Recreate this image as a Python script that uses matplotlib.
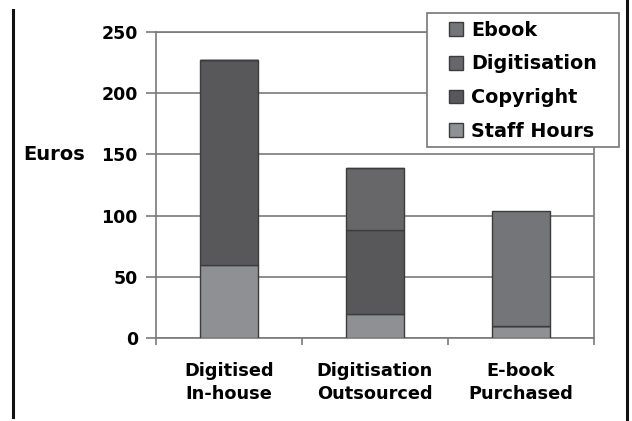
import numpy as np
import matplotlib
matplotlib.use('Agg')
import matplotlib.pyplot as plt
from matplotlib.lines import Line2D
from matplotlib.patches import Rectangle

# data (Euros per title)
categories = ['Digitised\nIn-house', 'Digitisation\nOutsourced', 'E-book\nPurchased']
staff_hours = [60, 20, 10]
copyright_cost = [167, 68, 0]
digitisation = [0, 51, 0]
ebook = [0, 0, 94]
yticks = [0, 50, 100, 150, 200, 250]

# series stacked bottom -> top
series = [
    ('Staff Hours', staff_hours, '#8f9093'),
    ('Copyright', copyright_cost, '#58585b'),
    ('Digitisation', digitisation, '#67676a'),
    ('Ebook', ebook, '#747578'),
]

plt.rcParams['font.family'] = 'DejaVu Sans'
plt.rcParams['font.weight'] = 'bold'

fig = plt.figure(figsize=(6.32, 4.21), dpi=100)
ax = fig.add_axes([0.2468, 0.197, 0.6930, 0.727])

x = np.arange(len(categories))
bottom = np.zeros(len(categories))
handles = []
for name, vals, col in series:
    vals = np.array(vals, dtype=float)
    bars = ax.bar(x, vals, width=0.4, bottom=bottom, color=col,
                  edgecolor='#3c3c3c', linewidth=1, zorder=3, label=name)
    bottom += vals
    handles.append(bars)

ax.set_xlim(-0.5, len(categories) - 0.5)
ax.set_ylim(0, 250)
ax.set_yticks(yticks)
ax.yaxis.grid(True, color='#7a7a7a', linewidth=1.2, zorder=0)

ax.set_xticks(x)
ax.set_xticklabels(categories, fontsize=12.8, fontweight='bold', linespacing=1.4)
ax.set_xticks(np.arange(len(categories) + 1) - 0.5, minor=True)
ax.tick_params(axis='x', which='major', length=0, pad=17)
ax.tick_params(axis='x', which='minor', length=5, width=1.2, color='#7a7a7a', direction='out')
ax.tick_params(axis='y', length=7, width=1.2, color='#7a7a7a', pad=6, labelsize=12.5)
for lab in ax.get_yticklabels():
    lab.set_fontweight('bold')

for s in ['left', 'bottom', 'right', 'top']:
    ax.spines[s].set_color('#7a7a7a')
    ax.spines[s].set_linewidth(1.2)

fig.text(0.036, 0.633, 'Euros', fontsize=14, fontweight='bold', va='center', ha='left')

# legend box: frame drawn separately to get the wide side padding
frame = Rectangle((0.6756, 0.6508), 0.3038, 0.3183, transform=fig.transFigure,
                  facecolor='white', edgecolor='#777777', linewidth=1.2, zorder=5)
fig.add_artist(frame)
leg = fig.legend(handles[::-1], [s[0] for s in series][::-1], loc='upper left',
                 bbox_to_anchor=(0.7104, 0.951), borderaxespad=0, frameon=False,
                 borderpad=0, prop={'weight': 'bold', 'size': 13.8},
                 handlelength=0.73, handleheight=0.73, handletextpad=0.42,
                 labelspacing=0.77)
leg.set_zorder(6)

# black page borders
fig.add_artist(Line2D([0.021, 0.021], [0.01, 0.976], color='#111111', linewidth=2.2))
fig.add_artist(Line2D([0.992, 0.992], [0.0, 1.0], color='#111111', linewidth=2.2))

fig.savefig('out.png', dpi=100)
